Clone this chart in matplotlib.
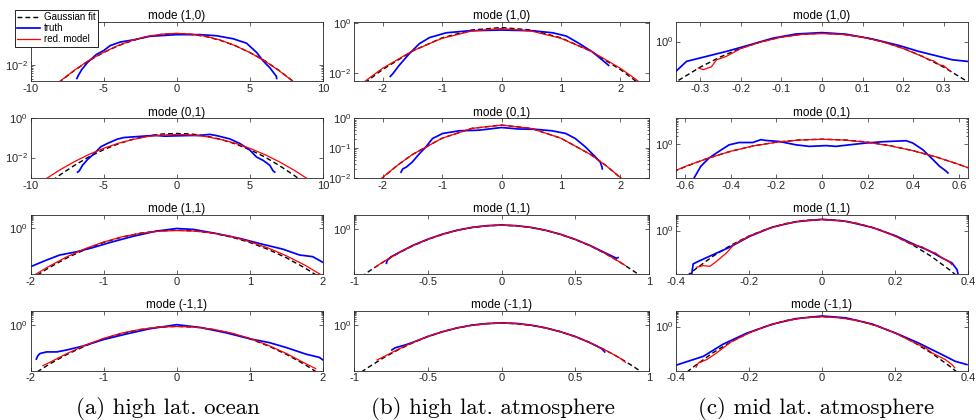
import numpy as np
import matplotlib
matplotlib.use('Agg')
import matplotlib.pyplot as plt
from matplotlib.ticker import FixedLocator, NullFormatter, LogFormatterSciNotation, FuncFormatter

# log10 of the pdf values

# (a) high lat. ocean
a1_fit_x = [-8.5, -8, -7, -6, -5, -4, -3, -2, -1, 0, 1, 2, 3, 4, 5, 6, 7, 8, 8.5]
a1_fit_log = [-2.83, -2.61, -2.20, -1.84, -1.55, -1.30, -1.11, -0.97, -0.89, -0.86,
              -0.89, -0.97, -1.11, -1.30, -1.55, -1.84, -2.20, -2.61, -2.83]
a1_red_x = a1_fit_x
a1_red_log = [-2.82, -2.60, -2.19, -1.83, -1.54, -1.29, -1.10, -0.96, -0.88, -0.855,
              -0.88, -0.96, -1.10, -1.30, -1.55, -1.85, -2.21, -2.62, -2.84]
a1_truth_x = [-6.83, -6.75, -6.5, -6.1, -5.5, -5.0, -4.56, -3.88, -2.97, -1.83, 0,
              1.58, 2.72, 3.86, 4.77, 5.45, 5.9, 6.36, 6.81, 6.83]
a1_truth_log = [-2.49, -2.40, -2.17, -1.91, -1.62, -1.48, -1.30, -1.17, -1.09, -0.96, -0.90,
                -0.90, -0.94, -1.05, -1.21, -1.54, -1.85, -2.10, -2.41, -2.49]

a2_fit_x = [-8.5, -8, -7, -6, -5, -4, -3, -2, -1, 0, 1, 2, 3, 4, 5, 6, 7, 8, 8.5]
a2_fit_log = [-3.17, -2.89, -2.40, -1.96, -1.60, -1.30, -1.07, -0.90, -0.80, -0.77,
              -0.80, -0.90, -1.07, -1.30, -1.60, -1.96, -2.40, -2.89, -3.17]
a2_red_x = [-9.5, -9, -8, -7, -6, -5, -4, -3, -2, -1, 0, 1, 2, 3, 4, 5, 6, 7, 8, 9, 9.5]
a2_red_log = [-3.37, -3.11, -2.63, -2.21, -1.84, -1.53, -1.27, -1.08, -0.93, -0.85, -0.82,
              -0.85, -0.93, -1.08, -1.27, -1.53, -1.84, -2.21, -2.63, -3.11, -3.37]
a2_truth_x = [-6.78, -6.67, -6.44, -6.1, -5.65, -5.19, -4.74, -4.06, -3.61, -2.68, -1.5, -0.81,
              0.67, 1.58, 2.26, 2.72, 3.63, 4.31, 5.0, 5.45, 5.9, 6.36, 6.59, 6.7]
a2_truth_log = [-2.74, -2.68, -2.39, -2.10, -1.80, -1.45, -1.28, -1.06, -0.98, -0.93, -0.87, -0.91,
                -0.88, -0.87, -0.82, -0.88, -1.05, -1.28, -1.62, -1.97, -2.14, -2.39, -2.68, -2.74]

a3_fit_x = [-2, -1.75, -1.5, -1.25, -1, -0.75, -0.5, -0.25, 0, 0.25, 0.5, 0.75, 1, 1.25, 1.5, 1.75, 2]
a3_fit_log = [-3.64, -2.82, -2.10, -1.50, -1.00, -0.62, -0.34, -0.18, -0.12,
              -0.18, -0.34, -0.62, -1.00, -1.50, -2.10, -2.82, -3.64]
a3_red_x = a3_fit_x
a3_red_log = [-3.50, -2.72, -2.02, -1.44, -0.97, -0.60, -0.35, -0.20, -0.15,
              -0.19, -0.33, -0.58, -0.95, -1.40, -1.96, -2.62, -3.40]
a3_truth_x = [-2, -1.78, -1.6, -1.37, -1.14, -0.91, -0.59, -0.28, 0, 0.23, 0.54, 0.86, 1.18, 1.45, 1.68, 1.86, 2]
a3_truth_log = [-2.74, -2.26, -1.90, -1.67, -1.36, -1.00, -0.55, -0.19, 0.0,
                -0.07, -0.36, -0.71, -1.14, -1.48, -1.90, -2.02, -2.43]

a4_fit_x = [-2, -1.75, -1.5, -1.25, -1, -0.75, -0.5, -0.25, 0, 0.25, 0.5, 0.75, 1, 1.25, 1.5, 1.75, 2]
a4_fit_log = [-3.52, -2.71, -2.01, -1.42, -0.93, -0.56, -0.29, -0.12, -0.07,
              -0.12, -0.29, -0.56, -0.93, -1.42, -2.01, -2.71, -3.52]
a4_red_x = [-1.83, -1.75, -1.5, -1.25, -1, -0.75, -0.5, -0.25, 0, 0.25, 0.5, 0.75, 1, 1.25, 1.5, 1.75, 1.9]
a4_red_log = [-2.79, -2.60, -1.95, -1.37, -0.90, -0.53, -0.28, -0.12, -0.07,
              -0.12, -0.27, -0.53, -0.90, -1.38, -1.95, -2.62, -3.00]
a4_truth_x = [-1.92, -1.9, -1.87, -1.78, -1.64, -1.5, -1.28, -1.0, -0.685, -0.366, 0,
              0.32, 0.68, 1.0, 1.27, 1.5, 1.77, 1.95, 2.0]
a4_truth_log = [-2.34, -2.11, -1.95, -1.84, -1.84, -1.70, -1.43, -0.98, -0.59, -0.23, 0.05,
                -0.14, -0.52, -0.93, -1.20, -1.54, -2.00, -2.22, -2.40]

# (b) high lat. atmosphere
b1_fit_x = [-2.5, -2.25, -2, -1.5, -1, -0.5, 0, 0.5, 1, 1.5, 2, 2.25, 2.5]
b1_fit_log = [-2.79, -2.30, -1.86, -1.13, -0.60, -0.29, -0.19, -0.29, -0.60, -1.13, -1.86, -2.30, -2.79]
b1_red_x = b1_fit_x
b1_red_log = [-2.70, -2.24, -1.81, -1.12, -0.62, -0.33, -0.23, -0.33, -0.62, -1.12, -1.81, -2.23, -2.70]
b1_truth_x = [-1.87, -1.83, -1.72, -1.55, -1.38, -1.21, -0.93, -0.54, 0,
              0.52, 0.86, 1.09, 1.31, 1.53, 1.7, 1.8]
b1_truth_log = [-2.13, -2.03, -1.69, -1.23, -0.83, -0.59, -0.40, -0.32, -0.29,
                -0.32, -0.40, -0.53, -0.83, -1.16, -1.49, -1.69]

b2_fit_x = [-2.5, -2.25, -2, -1.75, -1.5, -1, -0.5, 0, 0.5, 1, 1.5, 1.75, 2, 2.25, 2.5]
b2_fit_log = [-3.00, -2.47, -2.00, -1.58, -1.22, -0.67, -0.34, -0.226,
              -0.34, -0.67, -1.22, -1.58, -2.00, -2.47, -3.00]
b2_red_x = b2_fit_x
b2_red_log = [-2.99, -2.46, -1.99, -1.58, -1.22, -0.67, -0.34, -0.23,
              -0.34, -0.67, -1.22, -1.58, -1.99, -2.46, -2.99]
b2_truth_x = [-1.69, -1.66, -1.6, -1.5, -1.38, -1.27, -1.16, -0.99, -0.71, -0.38, 0,
              0.29, 0.57, 0.85, 1.08, 1.24, 1.41, 1.58, 1.66, 1.69, 1.695]
b2_truth_log = [-1.81, -1.70, -1.64, -1.47, -1.19, -0.96, -0.68, -0.51, -0.42, -0.40, -0.31,
                -0.36, -0.37, -0.42, -0.51, -0.68, -0.96, -1.30, -1.47, -1.64, -1.70]

b3_fit_x = [-0.95, -0.9, -0.8, -0.7, -0.6, -0.5, -0.4, -0.3, -0.2, -0.1, 0,
            0.1, 0.2, 0.3, 0.4, 0.5, 0.6, 0.7, 0.8, 0.9, 0.95]
b3_fit_log = [-3.41, -3.03, -2.35, -1.74, -1.21, -0.77, -0.41, -0.12, 0.08, 0.20, 0.24,
              0.20, 0.08, -0.12, -0.41, -0.77, -1.21, -1.74, -2.35, -3.03, -3.41]
b3_red_x = [-0.855, -0.8, -0.7, -0.6, -0.5, -0.4, -0.3, -0.2, -0.1, 0,
            0.1, 0.2, 0.3, 0.4, 0.5, 0.6, 0.7, 0.8, 0.84]
b3_red_log = [-2.71, -2.34, -1.73, -1.20, -0.76, -0.40, -0.12, 0.08, 0.20, 0.24,
              0.20, 0.08, -0.12, -0.41, -0.77, -1.21, -1.74, -2.35, -2.61]
b3_truth_x = [-0.78, -0.775, -0.75, -0.7, -0.6, -0.5, -0.4, -0.3, -0.2, -0.1, 0,
              0.1, 0.2, 0.3, 0.4, 0.5, 0.6, 0.7, 0.78, 0.79]
b3_truth_log = [-2.45, -2.25, -2.00, -1.72, -1.18, -0.75, -0.39, -0.11, 0.09, 0.21, 0.26,
                0.21, 0.09, -0.12, -0.40, -0.76, -1.19, -1.70, -2.10, -2.05]

b4_fit_x = b3_fit_x
b4_fit_log = [-3.24, -2.89, -2.25, -1.69, -1.20, -0.78, -0.44, -0.18, 0.01, 0.12, 0.16,
              0.12, 0.01, -0.18, -0.44, -0.78, -1.20, -1.69, -2.25, -2.89, -3.24]
b4_red_x = [-0.844, -0.8, -0.7, -0.6, -0.5, -0.4, -0.3, -0.2, -0.1, 0,
            0.1, 0.2, 0.3, 0.4, 0.5, 0.6, 0.7, 0.8, 0.84]
b4_red_log = [-2.40, -2.18, -1.65, -1.18, -0.77, -0.43, -0.17, 0.01, 0.12, 0.16,
              0.12, 0.01, -0.18, -0.44, -0.78, -1.20, -1.69, -2.25, -2.56]
b4_truth_x = [-0.743, -0.72, -0.65, -0.6, -0.5, -0.4, -0.3, -0.2, -0.1, 0,
              0.1, 0.2, 0.3, 0.4, 0.5, 0.6, 0.68, 0.7]
b4_truth_log = [-1.70, -1.55, -1.35, -1.17, -0.77, -0.44, -0.17, 0.02, 0.13, 0.17,
                0.14, 0.02, -0.17, -0.44, -0.77, -1.20, -1.62, -1.84]

# (c) mid lat. atmosphere
c1_fit_x = [-0.37, -0.35, -0.3, -0.25, -0.2, -0.15, -0.1, -0.05, 0,
            0.05, 0.1, 0.15, 0.2, 0.25, 0.3, 0.35, 0.37]
c1_fit_log = [-2.18, -1.91, -1.29, -0.77, -0.34, -0.01, 0.23, 0.37, 0.42,
              0.37, 0.23, -0.01, -0.34, -0.77, -1.29, -1.91, -2.18]
c1_red_x = [-0.305, -0.293, -0.273, -0.26, -0.236, -0.2, -0.15, -0.1, -0.05, 0,
            0.05, 0.1, 0.15, 0.2, 0.247, 0.265, 0.275, 0.29, 0.3, 0.317]
c1_red_log = [-1.33, -1.42, -1.28, -0.92, -0.75, -0.35, -0.02, 0.22, 0.36, 0.40,
              0.36, 0.22, -0.02, -0.35, -0.75, -0.93, -0.97, -1.18, -1.22, -1.50]
c1_truth_x = [-0.36, -0.334, -0.285, -0.236, -0.187, -0.121, -0.064, 0,
              0.059, 0.124, 0.19, 0.239, 0.288, 0.321, 0.358]
c1_truth_log = [-1.50, -1.00, -0.75, -0.50, -0.22, 0.17, 0.38, 0.45,
                0.37, 0.13, -0.20, -0.50, -0.75, -0.92, -1.00]

c2_fit_x = [-0.65, -0.6, -0.5, -0.4, -0.3, -0.2, -0.1, 0, 0.1, 0.2, 0.3, 0.4, 0.5, 0.6, 0.65]
c2_fit_log = [-1.07, -0.88, -0.55, -0.28, -0.07, 0.075, 0.16, 0.19,
              0.16, 0.075, -0.065, -0.26, -0.50, -0.79, -0.95]
c2_red_x = c2_fit_x
c2_red_log = [-1.06, -0.87, -0.55, -0.28, -0.07, 0.07, 0.155, 0.185,
              0.155, 0.07, -0.07, -0.26, -0.50, -0.79, -0.95]
c2_truth_x = [-0.563, -0.531, -0.495, -0.451, -0.407, -0.363, -0.304, -0.268, -0.246, -0.187,
              -0.114, -0.056, 0.018, 0.061, 0.12, 0.193, 0.266, 0.369, 0.398, 0.442,
              0.486, 0.515, 0.544, 0.552]
c2_truth_log = [-1.35, -0.86, -0.54, -0.28, -0.03, 0.06, 0.06, 0.17, 0.14, 0.10,
                -0.03, -0.09, -0.06, -0.09, -0.03, 0.04, 0.09, 0.13, 0.04, -0.22,
                -0.60, -0.86, -1.05, -1.12]

c3_fit_x = [-0.37, -0.35, -0.3, -0.25, -0.2, -0.15, -0.1, -0.05, 0,
            0.05, 0.1, 0.15, 0.2, 0.25, 0.3, 0.35, 0.37]
c3_fit_log = [-2.83, -2.46, -1.62, -0.92, -0.34, 0.11, 0.43, 0.63, 0.69,
              0.63, 0.43, 0.11, -0.34, -0.92, -1.62, -2.46, -2.83]
c3_red_x = [-0.344, -0.325, -0.307, -0.289, -0.262, -0.24, -0.2, -0.15, -0.1, -0.05, 0,
            0.05, 0.1, 0.15, 0.2, 0.25, 0.275, 0.293, 0.311, 0.329, 0.347, 0.356]
c3_red_log = [-2.29, -2.19, -2.23, -1.92, -1.40, -0.85, -0.35, 0.10, 0.42, 0.62, 0.68,
              0.62, 0.42, 0.10, -0.35, -0.90, -1.02, -1.29, -1.40, -1.71, -1.92, -2.13]
c3_truth_x = [-0.357, -0.353, -0.335, -0.298, -0.253, -0.198, -0.135, -0.071, 0,
              0.065, 0.138, 0.202, 0.256, 0.293, 0.329, 0.356, 0.37, 0.373]
c3_truth_log = [-2.75, -2.08, -1.88, -1.50, -1.04, -0.36, 0.22, 0.55, 0.70,
                0.58, 0.19, -0.33, -0.90, -1.25, -1.71, -2.02, -2.44, -2.75]

c4_fit_x = c3_fit_x
c4_fit_log = [-2.92, -2.55, -1.70, -0.99, -0.40, 0.05, 0.38, 0.57, 0.64,
              0.57, 0.38, 0.05, -0.40, -0.99, -1.70, -2.55, -2.92]
c4_red_x = [-0.345, -0.339, -0.316, -0.289, -0.25, -0.2, -0.15, -0.1, -0.05, 0,
            0.05, 0.1, 0.15, 0.2, 0.25, 0.284, 0.302, 0.32, 0.338, 0.356, 0.364]
c4_red_log = [-2.61, -2.34, -2.12, -1.70, -1.00, -0.41, 0.04, 0.37, 0.56, 0.63,
              0.56, 0.37, 0.04, -0.41, -1.00, -1.38, -1.70, -1.91, -2.12, -2.44, -2.65]
c4_truth_x = [-0.4, -0.362, -0.325, -0.271, -0.207, -0.135, -0.071, 0,
              0.065, 0.138, 0.211, 0.265, 0.302, 0.329, 0.365, 0.397]
c4_truth_log = [-2.48, -2.19, -1.91, -1.13, -0.43, 0.16, 0.51, 0.68,
                0.56, 0.16, -0.51, -1.06, -1.49, -1.80, -2.23, -2.44]

mode_names = ['mode (1,0)', 'mode (0,1)', 'mode (1,1)', 'mode (-1,1)']
captions = ['(a) high lat. ocean', '(b) high lat. atmosphere', '(c) mid lat. atmosphere']
legend_labels = ['Gaussian fit', 'truth', 'red. model']

# per panel: curves, x limits / ticks, log10 y limits, labelled decades, decades with minor ticks
panels = {
    (0, 0): (a1_fit_x, a1_fit_log, a1_truth_x, a1_truth_log, a1_red_x, a1_red_log,
             (-10, 10), [-10, -5, 0, 5, 10], (-2.59, -0.43), [-2], [-3]),
    (1, 0): (a2_fit_x, a2_fit_log, a2_truth_x, a2_truth_log, a2_red_x, a2_red_log,
             (-10, 10), [-10, -5, 0, 5, 10], (-3.03, 0.0), [0, -2], []),
    (2, 0): (a3_fit_x, a3_fit_log, a3_truth_x, a3_truth_log, a3_red_x, a3_red_log,
             (-2, 2), [-2, -1, 0, 1, 2], (-3.26, 1.0), [0], [0]),
    (3, 0): (a4_fit_x, a4_fit_log, a4_truth_x, a4_truth_log, a4_red_x, a4_red_log,
             (-2, 2), [-2, -1, 0, 1, 2], (-3.13, 1.0), [0], [0]),
    (0, 1): (b1_fit_x, b1_fit_log, b1_truth_x, b1_truth_log, b1_red_x, b1_red_log,
             (-2.48, 2.48), [-2, -1, 0, 1, 2], (-2.32, 0.04), [0, -2], []),
    (1, 1): (b2_fit_x, b2_fit_log, b2_truth_x, b2_truth_log, b2_red_x, b2_red_log,
             (-2.48, 2.48), [-2, -1, 0, 1, 2], (-2.0, 0.0), [0, -1, -2], [-1, -2]),
    (2, 1): (b3_fit_x, b3_fit_log, b3_truth_x, b3_truth_log, b3_red_x, b3_red_log,
             (-1, 1), [-1, -0.5, 0, 0.5, 1], (-3.21, 1.0), [0], [0]),
    (3, 1): (b4_fit_x, b4_fit_log, b4_truth_x, b4_truth_log, b4_red_x, b4_red_log,
             (-1, 1), [-1, -0.5, 0, 0.5, 1], (-3.13, 1.0), [0], [0]),
    (0, 2): (c1_fit_x, c1_fit_log, c1_truth_x, c1_truth_log, c1_red_x, c1_red_log,
             (-0.36, 0.36), [-0.3, -0.2, -0.1, 0, 0.1, 0.2, 0.3], (-2.0, 1.0), [0], []),
    (1, 2): (c2_fit_x, c2_fit_log, c2_truth_x, c2_truth_log, c2_red_x, c2_red_log,
             (-0.64, 0.64), [-0.6, -0.4, -0.2, 0, 0.2, 0.4, 0.6], (-1.31, 1.0), [0], [0]),
    (2, 2): (c3_fit_x, c3_fit_log, c3_truth_x, c3_truth_log, c3_red_x, c3_red_log,
             (-0.4, 0.4), [-0.4, -0.2, 0, 0.2, 0.4], (-2.71, 1.0), [0], [0]),
    (3, 2): (c4_fit_x, c4_fit_log, c4_truth_x, c4_truth_log, c4_red_x, c4_red_log,
             (-0.4, 0.4), [-0.4, -0.2, 0, 0.2, 0.4], (-2.82, 1.0), [0], [0]),
}

plt.rcParams['font.family'] = ['Liberation Sans', 'DejaVu Sans']
plt.rcParams['mathtext.default'] = 'regular'
plt.rcParams['axes.unicode_minus'] = False

W, H = 976, 420
fig = plt.figure(figsize=(W / 100, H / 100), dpi=100)

col_left = [30.5, 354, 676]
col_width = [292.5, 295, 292]
row_top = [21.7, 118.3, 214.5, 311]
ax_h = 59.5
axcol = '0.15'

lines_for_legend = None
for (r, c), p in panels.items():
    fx, flog, tx, tlog, rx, rlog, xl, xt, yl, majors, minors = p
    ax = fig.add_axes([col_left[c] / W, (H - row_top[r] - ax_h) / H, col_width[c] / W, ax_h / H])
    l1, = ax.plot(fx, 10 ** np.array(flog), color='k', lw=1.0, ls=(0, (3.5, 2.2)))
    l2, = ax.plot(tx, 10 ** np.array(tlog), color='#0000ff', lw=1.25)
    l3, = ax.plot(rx, 10 ** np.array(rlog), color='#ff0000', lw=0.9)
    if (r, c) == (0, 0):
        lines_for_legend = (ax, [l1, l2, l3])
    ax.set_yscale('log')
    ax.set_ylim(10 ** yl[0], 10 ** yl[1])
    ax.set_xlim(*xl)
    ax.set_xticks(xt)
    ax.xaxis.set_major_formatter(FuncFormatter(lambda v, pos: f'{v:g}'))
    ax.yaxis.set_major_locator(FixedLocator([10.0 ** d for d in majors]))
    ax.yaxis.set_major_formatter(LogFormatterSciNotation())
    ax.yaxis.set_minor_locator(FixedLocator([m * 10.0 ** d for d in minors for m in range(2, 10)]))
    ax.yaxis.set_minor_formatter(NullFormatter())
    ax.tick_params(which='both', direction='in', top=True, right=True, colors=axcol,
                   labelsize=8, width=0.5, pad=2)
    ax.tick_params(which='major', length=3)
    ax.tick_params(which='minor', length=1.6)
    ax.tick_params(axis='x', which='minor', bottom=False, top=False)
    for s in ax.spines.values():
        s.set_color(axcol)
        s.set_linewidth(0.6)
    ax.set_title(mode_names[r], fontsize=8.5, pad=2, color='k')

ax0, handles = lines_for_legend
leg = ax0.legend(handles, legend_labels, loc='upper left', bbox_to_anchor=(15 / W, 1 - 10 / H),
                 bbox_transform=fig.transFigure, fontsize=7, handlelength=2.3, handletextpad=0.4,
                 borderpad=0.25, labelspacing=0.1, borderaxespad=0, fancybox=False, framealpha=1)
leg.get_frame().set_edgecolor('k')
leg.get_frame().set_linewidth(0.6)

cap_x = [168, 493, 816]
for i, txt in enumerate(captions):
    fig.text(cap_x[i] / W, 1 - 409 / H, txt, ha='center', va='center', fontsize=16.5,
             family='cmr10')

fig.savefig('out.png', dpi=100)
